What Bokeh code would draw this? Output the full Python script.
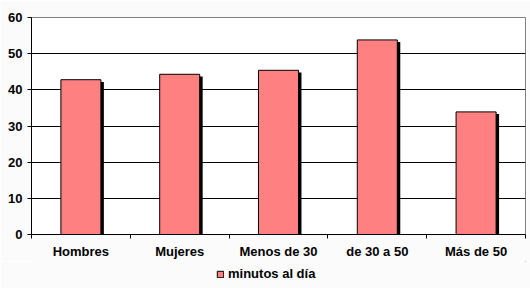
from bokeh.plotting import figure
from bokeh.layouts import column
from bokeh.models import ColumnDataSource, FixedTicker, Range1d, Legend, LegendItem
from bokeh.embed import file_html
from bokeh.resources import INLINE

categories = ["Hombres", "Mujeres", "Menos de 30", "de 30 a 50", "Más de 50"]
values = [42.8, 44.3, 45.4, 53.8, 33.9]
series_name = "minutos al día"
y_ticks = [0, 10, 20, 30, 40, 50, 60]

xs = [i + 0.5 for i in range(len(categories))]
src = ColumnDataSource(dict(x=xs, v=values,
                            xs_sh=[x + 0.03 for x in xs],
                            v_sh=[v - 0.6 for v in values]))

FONT = "Liberation Sans"
FS = "13px"
BG = "#fbfbfb"

p = figure(width=530, height=258, frame_width=494, frame_height=217,
           output_backend="svg", toolbar_location=None,
           x_range=Range1d(0, len(categories)), y_range=Range1d(0, 60),
           min_border_left=31, min_border_right=5, min_border_top=17, min_border_bottom=24)

p.background_fill_color = "white"
p.border_fill_color = BG
p.outline_line_color = "#808080"
p.outline_line_width = 1

# shadow
p.vbar(x="xs_sh", top="v_sh", bottom=0, width=0.405, source=src,
       fill_color="black", line_color=None)
r = p.vbar(x="x", top="v", bottom=0, width=0.405, source=src,
           fill_color="#FF8080", line_color="black", line_width=1)

# y axis
p.yaxis.ticker = FixedTicker(ticks=y_ticks)
p.yaxis.axis_line_color = "black"
p.yaxis.major_tick_line_color = "black"
p.yaxis.major_tick_out = 4
p.yaxis.major_tick_in = 0
p.yaxis.minor_tick_line_color = None
p.yaxis.major_label_text_font = FONT
p.yaxis.major_label_text_font_style = "bold"
p.yaxis.major_label_text_font_size = FS
p.yaxis.major_label_text_color = "black"
p.yaxis.major_label_standoff = 5

# x axis
p.xaxis.ticker = FixedTicker(ticks=xs, minor_ticks=list(range(len(categories) + 1)))
p.xaxis.major_label_overrides = {x: c for x, c in zip(xs, categories)}
p.xaxis.axis_line_color = "black"
p.xaxis.major_tick_line_color = None
p.xaxis.major_tick_out = 0
p.xaxis.major_tick_in = 0
p.xaxis.minor_tick_line_color = "black"
p.xaxis.minor_tick_out = 4
p.xaxis.minor_tick_in = 0
p.xaxis.major_label_text_font = FONT
p.xaxis.major_label_text_font_style = "bold"
p.xaxis.major_label_text_font_size = FS
p.xaxis.major_label_text_color = "black"
p.xaxis.major_label_standoff = 5

p.xgrid.visible = False
p.ygrid.ticker = FixedTicker(ticks=[t for t in y_ticks if 0 < t < 60])
p.ygrid.grid_line_color = "black"
p.ygrid.grid_line_width = 1

# legend strip
p2 = figure(width=530, height=30, output_backend="svg", toolbar_location=None,
            x_axis_type=None, y_axis_type=None,
            x_range=Range1d(0, 1), y_range=Range1d(0, 1),
            min_border=0)
p2.background_fill_color = BG
p2.border_fill_color = BG
p2.outline_line_color = None
p2.xgrid.visible = False
p2.ygrid.visible = False
# swatch renderer kept outside the visible range; it only feeds the legend glyph
r2 = p2.vbar(x=[5], top=[5], bottom=[4], width=0.1,
             fill_color="#FF8080", line_color="black", line_width=1)

legend = Legend(items=[LegendItem(label=series_name, renderers=[r2])],
                location=(185, 10), orientation="horizontal",
                border_line_color=None, background_fill_alpha=0,
                label_text_font=FONT, label_text_font_style="bold",
                label_text_font_size=FS, label_text_color="black",
                glyph_width=8, glyph_height=8, label_standoff=4,
                padding=1, margin=0, spacing=0, label_height=12)
p2.add_layout(legend)

layout = column(p, p2, spacing=0)
open("out.html", "w").write(file_html(layout, INLINE))
